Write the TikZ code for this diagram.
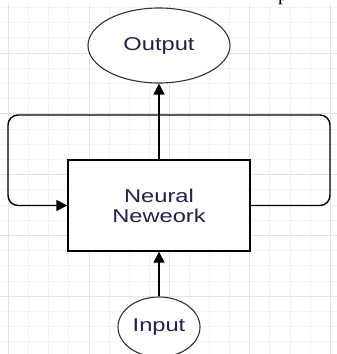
\documentclass[tikz,border=0pt]{standalone}
\usepackage{fontspec}
\setmainfont{Liberation Sans}
\newfontfamily\serifp{Liberation Serif}
\usetikzlibrary{shapes.geometric,arrows.meta}
\definecolor{txtcol}{RGB}{40,30,70}
\begin{document}
\begin{tikzpicture}[x=1pt,y=-1pt,
 minorgrid/.style={draw=black!5,line width=0.8pt},
 majorgrid/.style={draw=black!11,line width=0.8pt},
 ell/.style={ellipse,draw=black!80,line width=1.1pt,inner sep=0pt,fill=white},
 nnbox/.style={rectangle,draw=black,line width=1.4pt,fill=white,minimum width=182pt,minimum height=91pt,inner sep=0pt},
 conn/.style={draw=black,line width=1.4pt,-{Triangle[length=11pt,width=11pt]}},
 lbl/.style={font=\fontsize{18.5}{20}\selectfont,text=txtcol}
]
\useasboundingbox (0,0) rectangle (337,354);
\fill[white] (0,0) rectangle (337,354);
\begin{scope}
\clip (0,4) rectangle (337,354);
\foreach \k in {0,...,16} \draw[minorgrid] ({8.5+20.1*\k},4) -- ({8.5+20.1*\k},354);
\foreach \k in {-3,...,20} \draw[minorgrid] (0,{53+15.2*\k}) -- (337,{53+15.2*\k});
\foreach \k in {0,...,4} \draw[majorgrid] ({8.5+80.4*\k},4) -- ({8.5+80.4*\k},354);
\foreach \k in {-1,...,5} \draw[majorgrid] (0,{53+60.8*\k}) -- (337,{53+60.8*\k});
\end{scope}
\begin{scope}
\clip (0,0) rectangle (337,354);
\node[anchor=base,font=\serifp\fontsize{20}{20}\selectfont,inner sep=0pt] (pfrag) at (283,0) {p};
\node[ell,lbl,minimum width=142pt,minimum height=75pt] (out) at (159,45.5) {\scalebox{1.28}[1]{Output}};
\node[nnbox,lbl,align=center] (nn) at (159,205.5) {\scalebox{1.28}[1]{Neural}\\\scalebox{1.28}[1]{Neweork}};
\node[ell,lbl,minimum width=82pt,minimum height=60pt] (in) at (159,327) {\scalebox{1.28}[1]{Input}};
\coordinate (cr) at (330,115);
\coordinate (cl) at (8,115);
\draw[conn] (nn.north) -- (out.south);
\draw[conn] (in.north) -- (nn.south);
\draw[conn,rounded corners=10pt] (nn.east) -- (nn.east -| cr) -- (cr) -- (cl) -- (nn.west -| cl) -- (nn.west);
\end{scope}
\end{tikzpicture}
\end{document}
